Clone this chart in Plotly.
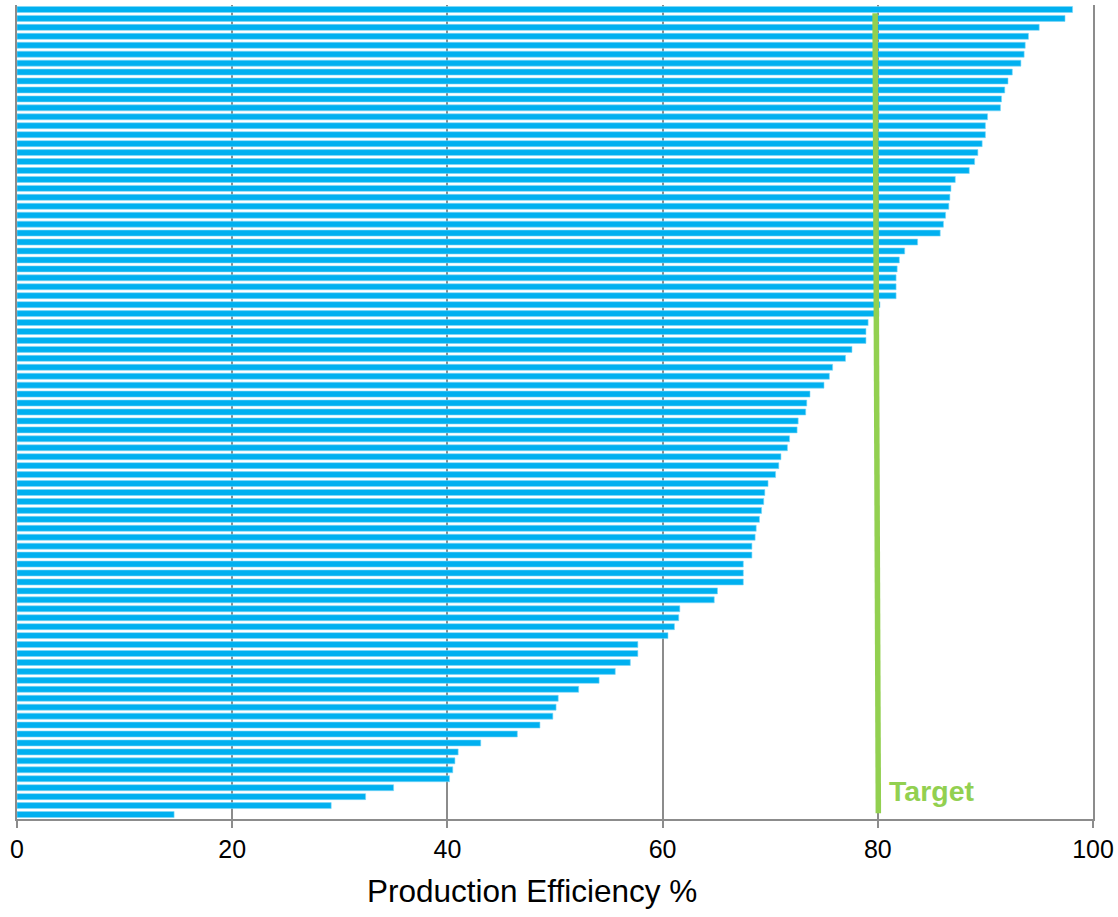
import plotly.graph_objects as go

# Production efficiency (%) per unit, sorted from highest (top) to lowest (bottom)
efficiency = [
    98.1, 97.4, 95.0, 94.0, 93.7, 93.6, 93.3, 92.5, 92.1, 91.8,
    91.5, 91.4, 90.2, 90.0, 90.0, 89.7, 89.3, 89.0, 88.5, 87.2,
    86.8, 86.7, 86.6, 86.3, 86.1, 85.8, 83.7, 82.5, 82.0, 81.8,
    81.7, 81.7, 81.7, 80.2, 80.1, 79.1, 78.9, 78.9, 77.6, 77.0,
    75.8, 75.5, 75.0, 73.7, 73.4, 73.3, 72.6, 72.5, 71.8, 71.6,
    71.0, 70.8, 70.5, 69.8, 69.5, 69.4, 69.2, 69.0, 68.7, 68.6,
    68.3, 68.3, 67.5, 67.5, 67.5, 65.1, 64.8, 61.6, 61.5, 61.1,
    60.5, 57.7, 57.7, 57.0, 55.6, 54.1, 52.2, 50.3, 50.1, 49.8,
    48.6, 46.5, 43.1, 41.0, 40.7, 40.5, 40.2, 35.0, 32.4, 29.2,
    14.6,
]
units = list(range(1, len(efficiency) + 1))

# Target reference line (x values in %, y as fraction of plot height)
target_x = [80.05, 79.75]
target_y = [0.007, 0.99]
target_label = "Target"

x_ticks = [0, 20, 40, 60, 80, 100]
x_title = "Production Efficiency %"

BLUE = "#00B0F0"
GREEN = "#92D050"
GRID = "#8C8C8C"
FONT = "Liberation Sans, Arial, sans-serif"

fig = go.Figure()
fig.add_trace(go.Bar(
    x=efficiency, y=units, orientation="h",
    marker=dict(color=BLUE, line=dict(width=0.6, color="#7FD7F7")),
    showlegend=False, hoverinfo="x",
))
fig.add_trace(go.Scatter(
    x=target_x, y=target_y, yaxis="y2", mode="lines",
    line=dict(color=GREEN, width=5.5), showlegend=False, hoverinfo="skip",
))

fig.add_annotation(
    x=80.9, y=0.034, xref="x", yref="y2", text="<b>%s</b>" % target_label,
    showarrow=False, xanchor="left", yanchor="middle",
    font=dict(family=FONT, size=28.5, color=GREEN),
)
fig.add_annotation(
    x=0.4786, y=-0.088, xref="paper", yref="paper", text=x_title,
    showarrow=False, xanchor="center", yanchor="middle",
    font=dict(family=FONT, size=31.5, color="black"),
)

fig.update_layout(
    width=1118, height=917,
    margin=dict(l=17, r=25, t=4.5, b=98, pad=0),
    paper_bgcolor="white", plot_bgcolor="white",
    bargap=0.33,
    font=dict(family=FONT, size=25, color="black"),
    xaxis=dict(
        range=[0, 100], tickvals=x_ticks, ticktext=[str(v) for v in x_ticks],
        showgrid=True, gridcolor=GRID, gridwidth=2,
        zeroline=False, showline=True, linecolor=GRID, linewidth=2,
        ticks="outside", ticklen=7, tickwidth=2, tickcolor=GRID,
        tickfont=dict(family=FONT, size=25, color="black"),
    ),
    yaxis=dict(
        range=[len(efficiency) + 0.5, 0.5], showticklabels=False,
        showgrid=False, zeroline=False, showline=True, mirror=True,
        linecolor=GRID, linewidth=2, ticks="",
    ),
    yaxis2=dict(
        range=[0, 1], overlaying="y", visible=False, fixedrange=True,
    ),
)

fig.write_html(
    "out.html",
    config={"displayModeBar": False},
    post_script="document.body.style.margin='0';document.body.style.padding='0';",
)
